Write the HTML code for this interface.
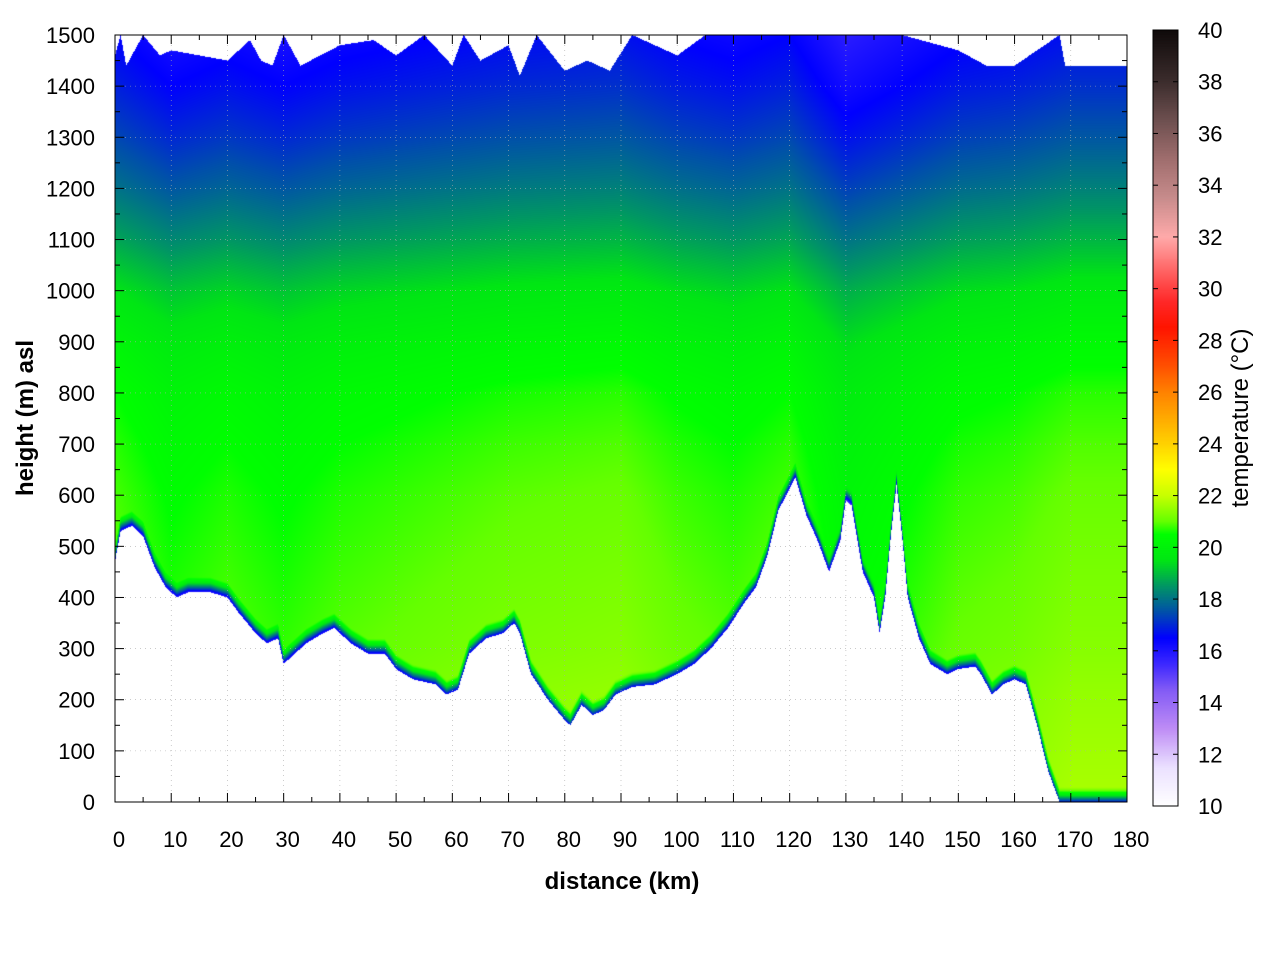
<!DOCTYPE html>
<html><head><meta charset="utf-8">
<style>
html,body{margin:0;padding:0;background:#fff;}
#wrap{position:relative;width:1280px;height:960px;font-family:"Liberation Sans",sans-serif;}
canvas{position:absolute;left:0;top:0;}
svg{position:absolute;left:0;top:0;}
</style></head>
<body>
<div id="wrap">
<canvas id="cv" width="1280" height="960"></canvas>
<svg id="sv" width="1280" height="960"></svg>
</div>
<script>
// ---- data ----
const groundKm = [0,1,3,5,7,9,11,13,15,17,20,22,25,27,29,30,32,34,37,39,42,45,48,50,53,57,59,61,63,66,69,71,72,74,77,80,81,83,85,87,89,92,96,100,103,106,109,112,114,116,118,121,123,125,127,129,130,131,133,135,136,137,138,139,140,141,143,145,148,150,153,154,156,158,160,162,164,166,168,180];
const groundM = [470,530,540,520,460,420,400,410,410,410,400,370,330,310,320,270,290,310,330,340,310,290,290,260,240,230,210,220,290,320,330,350,330,250,200,160,150,190,170,180,210,225,230,250,270,300,340,390,420,480,570,635,560,510,450,510,590,580,450,400,330,400,520,620,520,400,320,270,250,260,265,250,210,230,240,230,150,60,0,0];
const topKm = [0,1,2,5,8,10,15,20,24,26,28,30,33,40,46,50,55,60,62,65,70,72,75,80,84,88,92,100,105,120,140,150,155,160,168,169,180];
const topM = [1460,1500,1440,1500,1460,1470,1460,1450,1490,1450,1440,1500,1440,1480,1490,1460,1500,1440,1500,1450,1480,1420,1500,1430,1450,1430,1500,1460,1500,1500,1500,1470,1440,1440,1500,1440,1440];
const heightLevels = [0,100,200,300,400,500,600,700,800,900,1000,1100,1200,1300,1400,1500];
const tempByHeight = [21.4,21.3,21.2,21.05,20.95,20.85,20.75,20.6,20.4,20.0,19.4,18.6,17.9,17.3,16.8,16.4];
const offsetKm = [0,10,20,30,40,50,60,70,80,90,100,110,120,130,140,150,160,170,180];
const tempOffset = [0.1,-0.3,-0.1,-0.3,-0.1,0.0,0.1,0.2,0.25,0.3,0.05,-0.1,0.1,-0.6,-0.3,0.0,0.1,0.3,0.3];
const cbTemps = [10,11.5,13,14.5,15.5,16.5,17.5,18.5,19.5,20.5,21,22,23,24,25,26,27,28.5,29.5,30.5,32,33.5,35,36.5,38,40];
const cbColors = [[255,255,255],[235,225,255],[190,140,245],[130,90,245],[60,40,255],[0,0,255],[0,80,170],[0,150,100],[0,230,20],[0,255,0],[100,255,0],[200,255,0],[255,255,0],[255,210,0],[255,170,0],[255,130,0],[255,80,0],[255,20,0],[255,40,40],[255,90,90],[255,170,170],[200,140,140],[160,110,110],[110,80,80],[60,45,45],[15,10,10]];
const xTicks = [0,10,20,30,40,50,60,70,80,90,100,110,120,130,140,150,160,170,180];
const yTicks = [0,100,200,300,400,500,600,700,800,900,1000,1100,1200,1300,1400,1500];
const cbTicks = [10,12,14,16,18,20,22,24,26,28,30,32,34,36,38,40];

// ---- scales ----
const X0=115,X1=1127,Y0=802,Y1=35;
const xs = km => X0 + km/180*(X1-X0);
const ys = m => Y0 - m/1500*(Y0-Y1);
const CB0=806,CB1=30;
const cbs = t => CB0 - (t-10)/30*(CB0-CB1);
function interp(xa,ya,x){
  if(x<=xa[0])return ya[0];
  for(let i=1;i<xa.length;i++){ if(x<=xa[i]){const f=(x-xa[i-1])/(xa[i]-xa[i-1]);return ya[i-1]+f*(ya[i]-ya[i-1]);} }
  return ya[ya.length-1];
}
function color(t){
  if(t<=cbTemps[0])return cbColors[0];
  for(let i=1;i<cbTemps.length;i++){ if(t<=cbTemps[i]){const f=(t-cbTemps[i-1])/(cbTemps[i]-cbTemps[i-1]);const a=cbColors[i-1],b=cbColors[i];return [a[0]+f*(b[0]-a[0]),a[1]+f*(b[1]-a[1]),a[2]+f*(b[2]-a[2])];} }
  return cbColors[cbColors.length-1];
}
// ---- heatmap ----
const cv=document.getElementById('cv');const ctx=cv.getContext('2d');
const img=ctx.createImageData(1280,960);
for(let px=X0;px<X1;px++){
  const km=(px+0.5-X0)/(X1-X0)*180;
  const g=interp(groundKm,groundM,km), tp=interp(topKm,topM,km), off=interp(offsetKm,tempOffset,km);
  for(let py=Y1;py<Y0;py++){
    const m=(Y0-py-0.5)/(Y0-Y1)*1500;
    if(m<g||m>tp)continue;
    let t=interp(heightLevels,tempByHeight,m)+off;
    const d=m-g; if(d<30) t-= Math.pow((30-d)/30,1.5)*5;
    const c=color(t);const k=(py*1280+px)*4;
    img.data[k]=c[0];img.data[k+1]=c[1];img.data[k+2]=c[2];img.data[k+3]=255;
  }
}
for(let py=CB1;py<CB0;py++){
  const t=10+(CB0-py-0.5)/(CB0-CB1)*30;const c=color(t);
  for(let px=1153;px<1178;px++){const k=(py*1280+px)*4;img.data[k]=c[0];img.data[k+1]=c[1];img.data[k+2]=c[2];img.data[k+3]=255;}
}
ctx.putImageData(img,0,0);

// ---- axes ----
const sv=document.getElementById('sv');const NS='http://www.w3.org/2000/svg';
function el(tag,attrs,txt){const e=document.createElementNS(NS,tag);for(const k in attrs)e.setAttribute(k,attrs[k]);if(txt!==undefined)e.textContent=txt;sv.appendChild(e);return e;}
xTicks.forEach(v=>{
  const x=xs(v);
  if(v>0&&v<180){const gl=el('line',{x1:x,y1:Y1,x2:x,y2:Y0,stroke:'#aaa','stroke-width':0.6,'stroke-dasharray':'1,4'});
  
  }
  const t=el('line',{x1:x,y1:Y0,x2:x,y2:Y0-9,stroke:'#000','stroke-width':1});
  
  
  const t2=el('line',{x1:x,y1:Y1,x2:x,y2:Y1+9,stroke:'#000','stroke-width':1});
  
  
  if(v<180){const mx=xs(v+5);
  const m1=el('line',{x1:mx,y1:Y0,x2:mx,y2:Y0-5,stroke:'#000'});
  
  
  const m2=el('line',{x1:mx,y1:Y1,x2:mx,y2:Y1+5,stroke:'#000'});
  
  }
  const l=el('text',{x:x+4,y:847,'font-size':22,'text-anchor':'middle',fill:'#000'},String(v));
  
  
});
yTicks.forEach(v=>{
  const y=ys(v);
  if(v>0&&v<1500){const gl=el('line',{x1:X0,y1:y,x2:X1,y2:y,stroke:'#aaa','stroke-width':0.6,'stroke-dasharray':'1,4'});
  
  }
  const t=el('line',{x1:X0,y1:y,x2:X0+9,y2:y,stroke:'#000'});
  
  
  const t2=el('line',{x1:X1,y1:y,x2:X1-9,y2:y,stroke:'#000'});
  
  
  if(v<1500){const my=ys(v+50);
  const m1=el('line',{x1:X0,y1:my,x2:X0+5,y2:my,stroke:'#000'});
  
  
  const m2=el('line',{x1:X1,y1:my,x2:X1-5,y2:my,stroke:'#000'});
  
  }
  const l=el('text',{x:95,y:y+8,'font-size':22,'text-anchor':'end',fill:'#000'},String(v));
  
  
});
const fr=el('rect',{x:X0,y:Y1,width:X1-X0,height:Y0-Y1,fill:'none',stroke:'#000','stroke-width':1});


const cbr=el('rect',{x:1153,y:CB1,width:25,height:CB0-CB1,fill:'none',stroke:'#000','stroke-width':1});


cbTicks.forEach(v=>{
  const y=cbs(v);
  const a=el('line',{x1:1153,y1:y,x2:1158,y2:y,stroke:'#000'});
  
  
  const b=el('line',{x1:1173,y1:y,x2:1178,y2:y,stroke:'#000'});
  
  
  const l=el('text',{x:1198,y:y+8,'font-size':22,fill:'#000'},String(v));
  
  
});
const xt=el('text',{x:622,y:889,'font-size':24,'font-weight':'bold','text-anchor':'middle'},'distance (km)');


const yt=el('text',{x:0,y:0,'font-size':24,'font-weight':'bold','text-anchor':'middle',transform:'translate(33,418) rotate(-90)'},'height (m) asl');


const ct=el('text',{x:0,y:0,'font-size':24,'text-anchor':'middle',transform:'translate(1248,418) rotate(-90)'},'temperature (°C)');


</script>
</body></html>
